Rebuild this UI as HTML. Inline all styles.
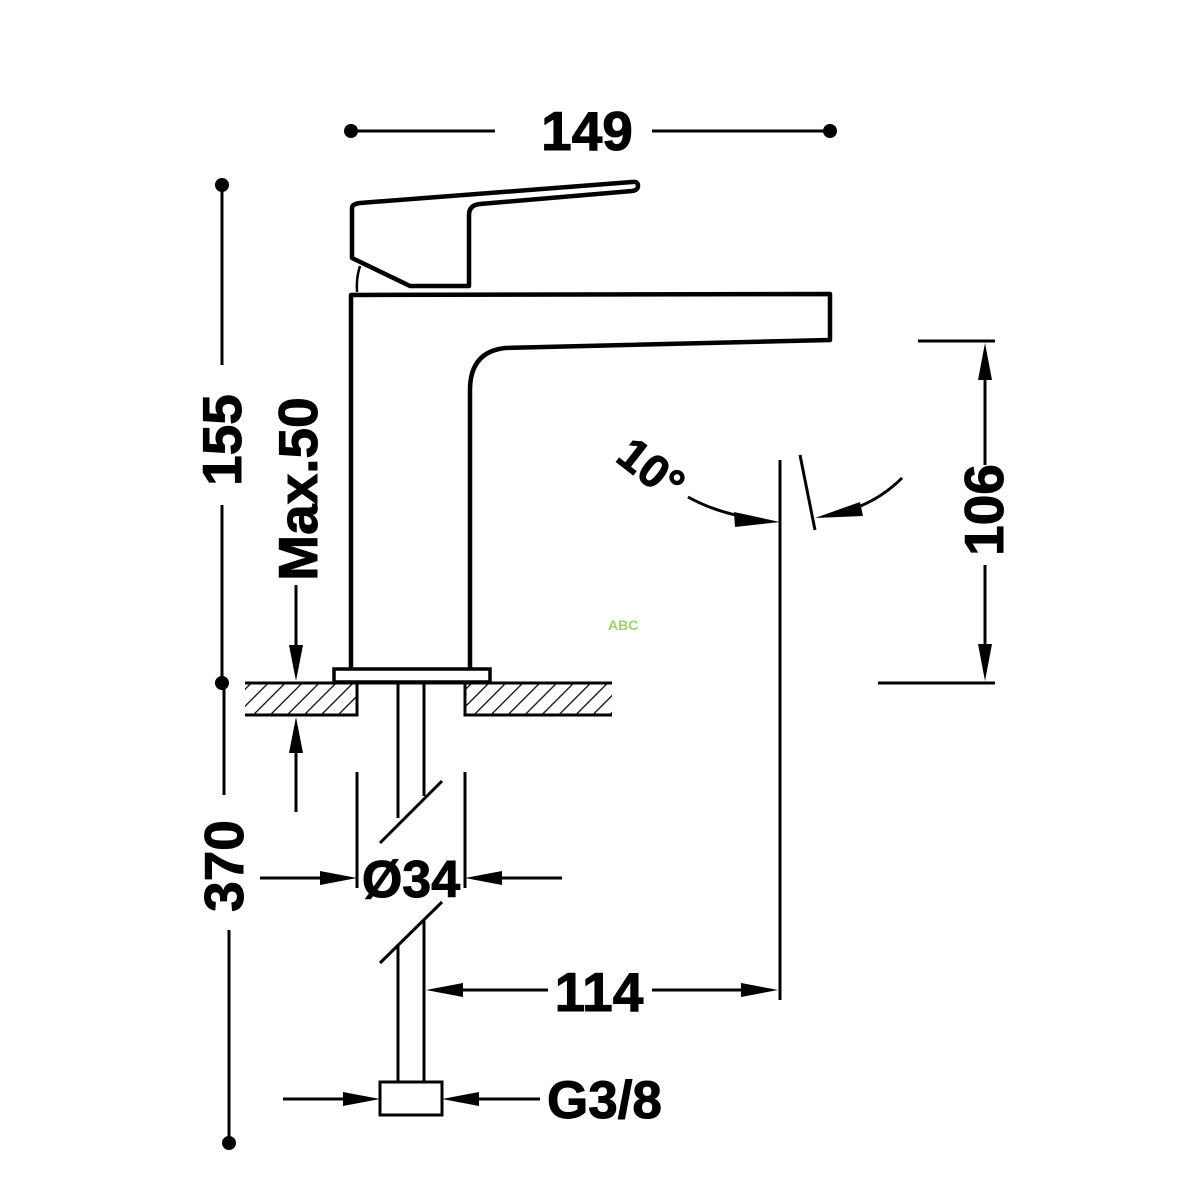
<!DOCTYPE html>
<html><head><meta charset="utf-8"><style>
html,body{margin:0;padding:0;background:#fff}
svg{display:block}
text{font-family:"Liberation Sans",Arial,sans-serif;font-weight:bold;fill:#000}
</style></head><body>
<svg width="1200" height="1200" viewBox="0 0 1200 1200" xmlns="http://www.w3.org/2000/svg">
<defs>
<pattern id="h" width="12" height="12" patternUnits="userSpaceOnUse" patternTransform="rotate(45)">
<line x1="0" y1="0" x2="0" y2="12" stroke="#000" stroke-width="2.5"/>
</pattern>
</defs>
<rect width="1200" height="1200" fill="#fff"/>
<g stroke="#000" fill="none" stroke-linecap="butt">
<line x1="351" y1="131" x2="495" y2="131" stroke-width="3"/>
<line x1="652" y1="131" x2="830" y2="131" stroke-width="3"/>
<line x1="222" y1="185" x2="222" y2="365" stroke-width="3"/>
<line x1="222" y1="505" x2="222" y2="683" stroke-width="3"/>
<line x1="224" y1="683" x2="224" y2="795" stroke-width="3"/>
<line x1="229" y1="930" x2="229" y2="1143" stroke-width="3"/>
<line x1="296" y1="585" x2="296" y2="650" stroke-width="3"/>
<line x1="296" y1="745" x2="296" y2="812" stroke-width="3"/>
<path d="M352 208 L352 258 L410 286 L469 286 L469 215 Q469 205 480 204 L632 191 Q638 190 638 186 Q638 181 632 182 L360 203 Q352 204 352 208 Z" stroke-width="4.5" stroke-linejoin="round"/>
<path d="M360 266 Q356 278 357 292" stroke-width="2.5"/>
<path d="M351 669 L351 295 L830 294 L830 340 L505 348 Q470 352 470 390 L470 669" stroke-width="4.5" stroke-linejoin="round"/>
<rect x="334" y="669" width="156" height="13" stroke-width="3.5"/>
<rect x="245" y="683" width="112" height="32" fill="url(#h)" stroke="none"/>
<rect x="465" y="683" width="147" height="32" fill="url(#h)" stroke="none"/>
<line x1="245" y1="683" x2="612" y2="683" stroke-width="3"/>
<path d="M245 715 L357 715 L357 683" stroke-width="3"/>
<path d="M612 715 L465 715 L465 683" stroke-width="3"/>
<line x1="398" y1="683" x2="398" y2="818" stroke-width="3"/>
<line x1="424" y1="683" x2="424" y2="796" stroke-width="3"/>
<line x1="380" y1="843" x2="442" y2="781" stroke-width="3"/>
<line x1="380" y1="963" x2="442" y2="902" stroke-width="3"/>
<line x1="398" y1="946" x2="398" y2="1082" stroke-width="3"/>
<line x1="424" y1="921" x2="424" y2="1082" stroke-width="3"/>
<rect x="380" y="1082" width="62" height="33" stroke-width="3"/>
<line x1="357" y1="772" x2="357" y2="888" stroke-width="3"/>
<line x1="465" y1="772" x2="465" y2="888" stroke-width="3"/>
<line x1="260" y1="878" x2="340" y2="878" stroke-width="3"/>
<line x1="482" y1="878" x2="562" y2="878" stroke-width="3"/>
<line x1="283" y1="1099" x2="362" y2="1099" stroke-width="3"/>
<line x1="460" y1="1099" x2="540" y2="1099" stroke-width="3"/>
<line x1="440" y1="990" x2="548" y2="990" stroke-width="3"/>
<line x1="652" y1="990" x2="765" y2="990" stroke-width="3"/>
<line x1="780" y1="460" x2="780" y2="1000" stroke-width="3"/>
<line x1="800" y1="455" x2="815" y2="530" stroke-width="3"/>
<path d="M688 497 Q715 512 750 518" stroke-width="3"/>
<path d="M902 478 Q880 500 850 510" stroke-width="3"/>
<line x1="918" y1="341" x2="995" y2="341" stroke-width="3"/>
<line x1="878" y1="683" x2="995" y2="683" stroke-width="3"/>
<line x1="985" y1="358" x2="985" y2="465" stroke-width="3"/>
<line x1="985" y1="565" x2="985" y2="666" stroke-width="3"/>
</g>
<g fill="#000">
<circle cx="351" cy="131" r="7"/><circle cx="830" cy="131" r="7"/>
<circle cx="222" cy="185" r="7"/><circle cx="222" cy="683" r="7"/><circle cx="229" cy="1143" r="7"/>
<polygon points="296,681 289,645 303,645"/>
<polygon points="296,717 289,753 303,753"/>
<polygon points="357,878 320,871 320,885"/>
<polygon points="465,878 502,871 502,885"/>
<polygon points="380,1099 343,1092 343,1106"/>
<polygon points="442,1099 479,1092 479,1106"/>
<polygon points="426,990 463,983 463,997"/>
<polygon points="778,990 741,983 741,997"/>
<polygon points="985,343 978,380 992,380"/>
<polygon points="985,681 978,644 992,644"/>
<polygon points="780,522 734,512 735,527"/>
<polygon points="815,518 860,502 863,516"/>
</g>
<g stroke="#000" stroke-width="1">
<text x="587" y="150" font-size="55" text-anchor="middle">149</text>
<text transform="translate(241,440) rotate(-90)" font-size="55" text-anchor="middle">155</text>
<text transform="translate(243,866) rotate(-90)" font-size="55" text-anchor="middle">370</text>
<text transform="translate(317,489) rotate(-90)" font-size="55" text-anchor="middle">Max.50</text>
<text transform="translate(1003,510) rotate(-90)" font-size="55" text-anchor="middle">106</text>
<text x="411" y="897" font-size="52" text-anchor="middle">Ø34</text>
<text x="599" y="1011" font-size="55" text-anchor="middle">114</text>
<text x="547" y="1118" font-size="53">G3/8</text>
<text transform="translate(614,460) rotate(38)" font-size="46">10°</text>
</g>
<text x="608" y="630" font-size="14" style="fill:#9ad46a">ABC</text>
</svg>
</body></html>
